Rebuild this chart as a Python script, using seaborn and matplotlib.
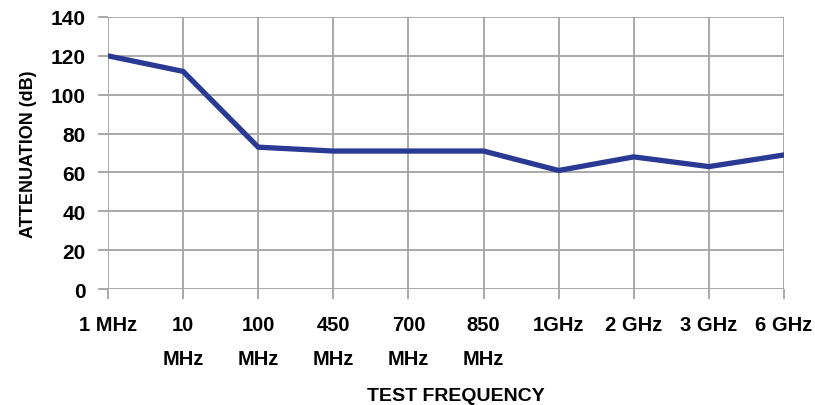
import matplotlib
matplotlib.use("Agg")
import matplotlib.pyplot as plt
import seaborn as sns

# === DATA ===
freq_labels = ["1 MHz", "10\nMHz", "100\nMHz", "450\nMHz", "700\nMHz", "850\nMHz",
               "1GHz", "2 GHz", "3 GHz", "6 GHz"]
attenuation = [120, 112, 73, 71, 71, 71, 61, 68, 63, 69]
y_ticks = [0, 20, 40, 60, 80, 100, 120, 140]

# === STYLE ===
sns.set_style("white", {"xtick.bottom": True, "ytick.left": True,
                        "text.color": "black", "axes.labelcolor": "black",
                        "xtick.color": "black", "ytick.color": "black"})
plt.rcParams["font.family"] = ["Liberation Sans", "DejaVu Sans"]
plt.rcParams["font.weight"] = "bold"

LINE_COLOR = "#293A94"
GRID_COLOR = "#A3A3A3"

fig = plt.figure(figsize=(8.15, 4.06), dpi=100)
ax = fig.add_axes([0.1325, 0.2857, 0.8295, 0.67])

x_pos = list(range(len(freq_labels)))
sns.lineplot(x=x_pos, y=attenuation, color=LINE_COLOR, linewidth=3.8, ax=ax,
             solid_joinstyle="miter", zorder=3)

ax.set_xlim(0, len(freq_labels) - 1)
ax.set_ylim(0, 140)
ax.set_xticks(x_pos)
ax.set_xticklabels(freq_labels, fontsize=14.5, fontweight="bold", linespacing=1.95)
ax.set_yticks(y_ticks)
ax.set_yticklabels([str(v) for v in y_ticks], fontsize=15, fontweight="bold")

ax.grid(True, color=GRID_COLOR, linewidth=1.3)
ax.set_axisbelow(True)
for s in ax.spines.values():
    s.set_visible(False)
ax.tick_params(axis="both", which="major", length=7, width=1.3, color=GRID_COLOR,
               labelcolor="black")
ax.tick_params(axis="x", pad=12)
ax.tick_params(axis="y", pad=9)

ax.set_xlabel("TEST FREQUENCY", fontsize=14, fontweight="bold", color="black")
ax.xaxis.set_label_coords(0.515, -0.36)
ax.set_ylabel("ATTENUATION (dB)", fontsize=13, fontweight="bold", labelpad=10,
              color="black")

fig.savefig("out.png", dpi=100)
